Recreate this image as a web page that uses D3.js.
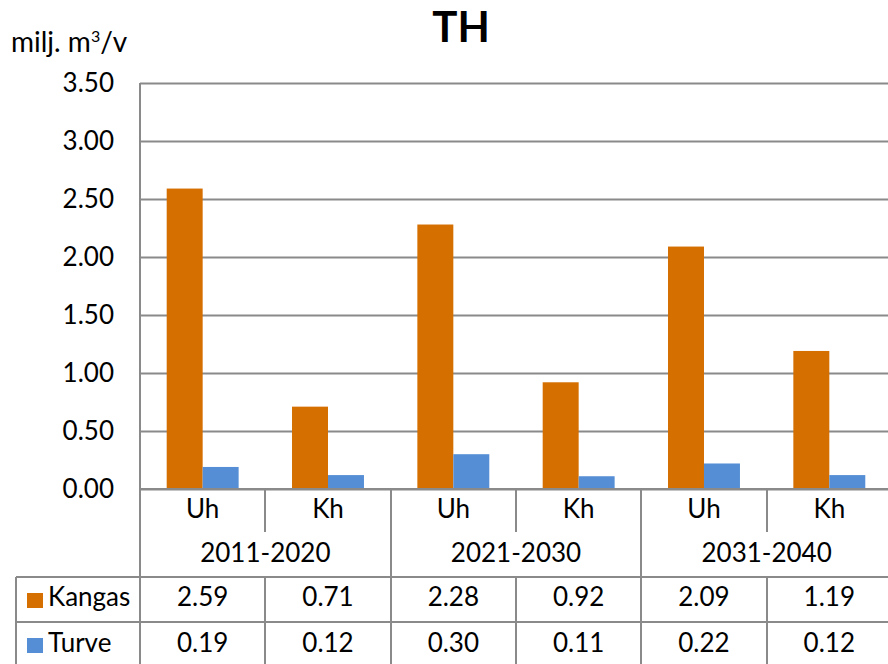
<!DOCTYPE html>
<html>
<head>
<meta charset="utf-8">
<script src="https://cdn.jsdelivr.net/npm/d3@7"></script>
<style>
  html, body { margin: 0; padding: 0; background: #fff; }
  svg { display: block; font-family: Lato, "Open Sans", sans-serif; }
</style>
</head>
<body>
<svg id="chart" width="888" height="664"></svg>
<script>
// ---- data ----
const title = "TH";
const categories = ["Uh", "Kh", "Uh", "Kh", "Uh", "Kh"];
const periods = ["2011-2020", "2021-2030", "2031-2040"];
const seriesNames = ["Kangas", "Turve"];
const kangas = [2.59, 0.71, 2.28, 0.92, 2.09, 1.19];
const turve = [0.19, 0.12, 0.30, 0.11, 0.22, 0.12];
const yTicks = [0, 0.5, 1.0, 1.5, 2.0, 2.5, 3.0, 3.5];
const colors = ["#D46F00", "#558ED5"];

const series = [kangas, turve];

// ---- layout ----
const svg = d3.select("#chart");
const plotLeft = 140, plotTop = 83, plotBottom = 489;
const catW = 125.33;
const plotRight = plotLeft + catW * categories.length;
const lineColor = "#8a8a8a";
const fontSize = 26;

const y = d3.scaleLinear().domain([0, 3.5]).range([plotBottom, plotTop]);
const x = d3.scaleBand().domain(d3.range(categories.length)).range([plotLeft, plotRight])
  .paddingInner(0.426).paddingOuter(0.213);
const xOuter = d3.scaleBand().domain(d3.range(categories.length)).range([plotLeft, plotRight]).padding(0);
const xs = d3.scaleBand().domain(d3.range(seriesNames.length)).range([0, x.bandwidth()]).padding(0);

// title
svg.append("text").attr("x", 461).attr("y", 42).attr("text-anchor", "middle")
  .attr("font-size", 42).attr("font-weight", "bold").attr("fill", "#000").text(title);

// unit label
const unit = svg.append("text").attr("x", 11).attr("y", 52).attr("font-size", 28).attr("fill", "#000");
unit.append("tspan").text("milj. m");
unit.append("tspan").attr("font-size", 16).attr("dy", -10).text("3");
unit.append("tspan").attr("dy", 10).text("/v");

// gridlines
const yAxis = d3.axisLeft(y).tickValues(yTicks).tickSize(-(888 - plotLeft)).tickFormat(d3.format(".2f"));
const gAxis = svg.append("g").attr("transform", `translate(${plotLeft},0)`).call(yAxis);
gAxis.select(".domain").remove();
gAxis.selectAll(".tick line").attr("stroke", lineColor).attr("stroke-width", 2);
gAxis.selectAll(".tick text").attr("x", -26).attr("font-size", fontSize)
  .attr("fill", "#000").attr("font-family", "Lato, sans-serif");

// bars
const groups = svg.append("g").selectAll("g").data(categories).join("g")
  .attr("transform", (d, i) => `translate(${x(i)},0)`);
groups.selectAll("rect").data((d, i) => series.map((s, k) => ({ k, v: s[i] }))).join("rect")
  .attr("x", d => xs(d.k)).attr("width", xs.bandwidth())
  .attr("y", d => y(d.v)).attr("height", d => y(0) - y(d.v))
  .attr("fill", d => colors[d.k]);

// axis lines
const lines = svg.append("g").attr("stroke", lineColor).attr("stroke-width", 2);
lines.append("line").attr("x1", plotLeft).attr("x2", plotLeft).attr("y1", plotTop).attr("y2", 664);
lines.append("line").attr("x1", plotLeft).attr("x2", 888).attr("y1", y(0)).attr("y2", y(0));

// table geometry
const rowCat = 532, rowYear = 577, rowK = 622;
const tableLeft = 16;
lines.append("line").attr("x1", tableLeft).attr("x2", 888).attr("y1", rowYear).attr("y2", rowYear);
lines.append("line").attr("x1", tableLeft).attr("x2", 888).attr("y1", rowK).attr("y2", rowK);
lines.append("line").attr("x1", tableLeft).attr("x2", tableLeft).attr("y1", rowYear).attr("y2", 664);

// vertical dividers
d3.range(1, categories.length).forEach(i => {
  const xx = Math.round(xOuter(i));
  if (i % 2 === 0) {
    lines.append("line").attr("x1", xx).attr("x2", xx).attr("y1", y(0)).attr("y2", 664);
  } else {
    lines.append("line").attr("x1", xx).attr("x2", xx).attr("y1", y(0)).attr("y2", rowCat);
    lines.append("line").attr("x1", xx).attr("x2", xx).attr("y1", rowYear).attr("y2", 664);
  }
});

// category labels
const cx = i => xOuter(i) + xOuter.bandwidth() / 2;
svg.append("g").selectAll("text").data(categories).join("text")
  .attr("x", (d, i) => cx(i)).attr("y", 518).attr("text-anchor", "middle")
  .attr("font-size", fontSize).text(d => d);

// period labels
svg.append("g").selectAll("text").data(periods).join("text")
  .attr("x", (d, i) => xOuter(i * 2) + xOuter.bandwidth())
  .attr("y", 562).attr("text-anchor", "middle")
  .attr("font-size", fontSize).text(d => d);

// table rows
const rowBase = [606, 652];
const swatchY = [593, 638];
seriesNames.forEach((name, k) => {
  svg.append("rect").attr("x", 27).attr("y", swatchY[k]).attr("width", 16).attr("height", 15).attr("fill", colors[k]);
  svg.append("text").attr("x", 48).attr("y", rowBase[k]).attr("font-size", fontSize).text(name);
  svg.append("g").selectAll("text").data(series[k]).join("text")
    .attr("x", (d, i) => cx(i)).attr("y", rowBase[k]).attr("text-anchor", "middle")
    .attr("font-size", fontSize).text(d => d.toFixed(2));
});
</script>
</body>
</html>
